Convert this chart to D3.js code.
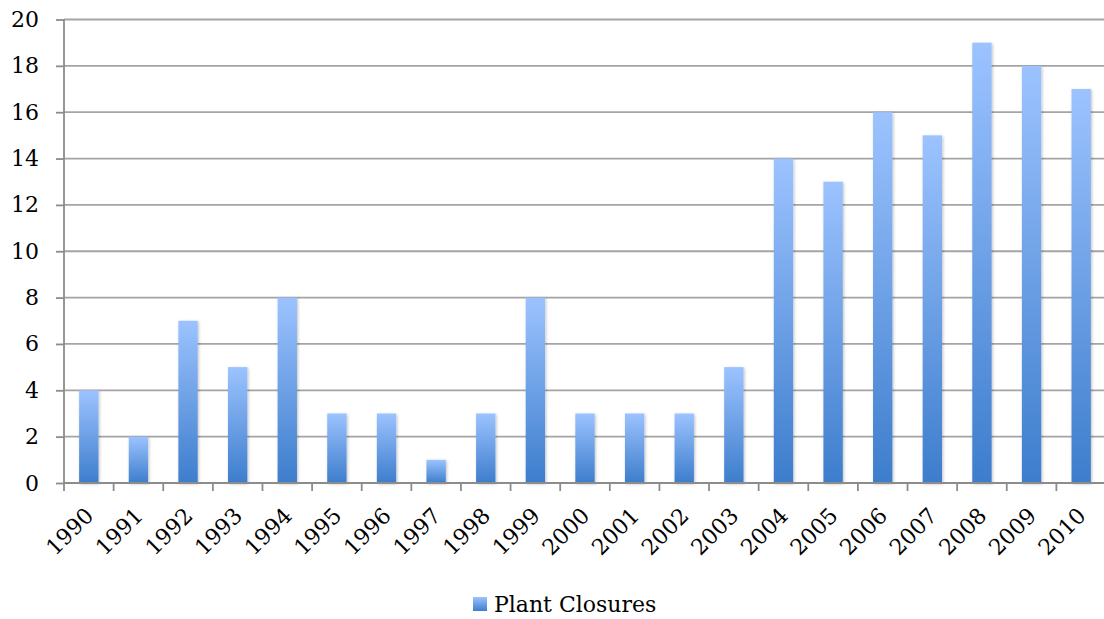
<!DOCTYPE html>
<html>
<head>
<meta charset="utf-8">
<script src="https://cdn.jsdelivr.net/npm/d3@7"></script>
<style>
  html, body { margin: 0; padding: 0; background: #fff; }
  svg { display: block; }
  text { font-family: "DejaVu Serif", serif; fill: #000; }
</style>
</head>
<body>
<svg id="chart" width="1104" height="619"></svg>
<script>
// Plant closures per year
const years = ["1990","1991","1992","1993","1994","1995","1996","1997","1998","1999","2000",
               "2001","2002","2003","2004","2005","2006","2007","2008","2009","2010"];
const closures = [4, 2, 7, 5, 8, 3, 3, 1, 3, 8, 3, 3, 3, 5, 14, 13, 16, 15, 19, 18, 17];
const yTicks = [0, 2, 4, 6, 8, 10, 12, 14, 16, 18, 20];
const seriesName = "Plant Closures";

const svg = d3.select("#chart");
const plotL = 64, plotR = 1106, plotT = 19.5, plotB = 483;

const x = d3.scaleBand().domain(years).range([plotL, plotR]).paddingInner(0.61).paddingOuter(0.305);
const y = d3.scaleLinear().domain([0, 20]).range([plotB, plotT]);

const defs = svg.append("defs");
const grad = defs.append("linearGradient").attr("id", "barFill")
  .attr("x1", 0).attr("y1", 0).attr("x2", 0).attr("y2", 1);
grad.append("stop").attr("offset", "0%").attr("stop-color", "#9cc3ff");
grad.append("stop").attr("offset", "100%").attr("stop-color", "#3d7dcc");

const shadow = defs.append("filter").attr("id", "barShadow")
  .attr("x", "-30%").attr("y", "-10%").attr("width", "160%").attr("height", "120%");
shadow.append("feDropShadow").attr("dx", 1).attr("dy", 1).attr("stdDeviation", 1.5)
  .attr("flood-color", "#000").attr("flood-opacity", 0.25);

// horizontal gridlines
svg.append("g").selectAll("line").data(yTicks.filter(d => d > 0)).join("line")
  .attr("x1", plotL).attr("x2", plotR)
  .attr("y1", d => y(d)).attr("y2", d => y(d))
  .attr("stroke", "#a4a4a4").attr("stroke-width", 1.8);

// bars
svg.append("g").selectAll("rect").data(years).join("rect")
  .attr("x", (d) => x(d))
  .attr("width", x.bandwidth())
  .attr("y", (d, i) => y(closures[i]))
  .attr("height", (d, i) => y(0) - y(closures[i]))
  .attr("fill", "url(#barFill)")
  .attr("filter", "url(#barShadow)");

// y axis
const yAxis = svg.append("g").attr("transform", `translate(${plotL},0)`)
  .call(d3.axisLeft(y).tickValues(yTicks).tickSize(8).tickPadding(17));
yAxis.select(".domain").attr("stroke", "#8c8c8c").attr("stroke-width", 1.8).attr("d", `M0,${plotT}V${plotB}`);
yAxis.selectAll(".tick line").attr("stroke", "#8c8c8c").attr("stroke-width", 1.8);
yAxis.selectAll(".tick text").style("font-size", "22px").style("font-family", "DejaVu Serif").attr("fill", "#000");

// x axis with ticks at category boundaries
const xAxisG = svg.append("g").attr("transform", `translate(0,${plotB})`);
xAxisG.append("line").attr("x1", plotL).attr("x2", plotR).attr("stroke", "#8c8c8c").attr("stroke-width", 1.8);
const bounds = years.map(d => x(d) - x.step() * x.paddingInner() / 2).concat([plotR]);
xAxisG.selectAll("line.tk").data(bounds).join("line").attr("class", "tk")
  .attr("x1", d => d).attr("x2", d => d).attr("y1", 0).attr("y2", 8)
  .attr("stroke", "#8c8c8c").attr("stroke-width", 1.8);
xAxisG.selectAll("text").data(years).join("text")
  .attr("transform", d => `translate(${x(d) + x.bandwidth() / 2 + 6},${34}) rotate(-45)`)
  .attr("text-anchor", "end")
  .style("font-size", "22px")
  .text(d => d);

// legend
const legend = svg.append("g").attr("transform", "translate(473,597)");
legend.append("rect").attr("width", 14).attr("height", 14).attr("fill", "url(#barFill)");
legend.append("text").attr("x", 21).attr("y", 15).style("font-size", "22px").text(seriesName);
</script>
</body>
</html>
